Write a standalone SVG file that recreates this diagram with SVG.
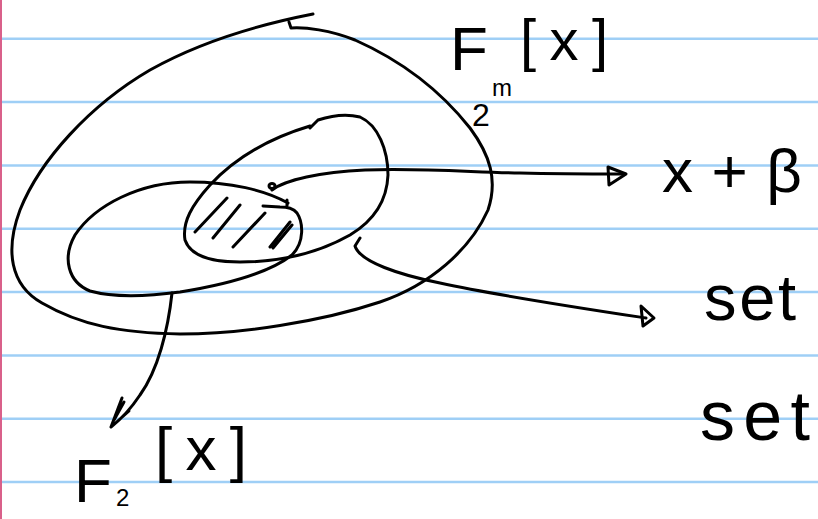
<svg xmlns="http://www.w3.org/2000/svg" width="818" height="519" viewBox="0 0 818 519">
<style>
.rule{stroke:#9fcff6;stroke-width:2.5}
.ink{fill:none;stroke:#000;stroke-width:3;stroke-linecap:round;stroke-linejoin:round}
.t{font-family:"Liberation Sans",Arial,sans-serif;fill:#000}
</style>
<rect width="818" height="519" fill="#fff"/>
<g id="paper">
<line class="rule" x1="0" y1="38.7" x2="818" y2="38.7"/>
<line class="rule" x1="0" y1="102" x2="818" y2="102"/>
<line class="rule" x1="0" y1="165.4" x2="818" y2="165.4"/>
<line class="rule" x1="0" y1="228.7" x2="818" y2="228.7"/>
<line class="rule" x1="0" y1="292" x2="818" y2="292"/>
<line class="rule" x1="0" y1="355.4" x2="818" y2="355.4"/>
<line class="rule" x1="0" y1="418.7" x2="818" y2="418.7"/>
<line class="rule" x1="0" y1="482" x2="818" y2="482"/>
<line x1="1" y1="0" x2="1" y2="519" stroke="#d9608a" stroke-width="2"/>
</g>
<g id="outer-set">
<path class="ink" d="M313,14 C262,24 200,42 150,70 C90,105 40,160 20,210 C5,250 10,285 42,303 C80,325 120,333 180,334 C240,334 320,322 380,302 C430,285 470,250 488,210 C498,180 490,155 470,128 C440,90 400,60 355,40 C330,30 305,27 291,28 L289,22"/>
</g>
<g id="set-b">
<path class="ink" d="M310,128 L318,120 C330,116 345,113 360,117 C378,125 388,150 388,175 C387,200 375,220 350,235 C320,252 285,262 240,262 C210,262 190,255 185,240 C182,222 192,205 210,185 C235,158 270,138 310,126"/>
</g>
<g id="set-a">
<path class="ink" d="M287,200 L287,206 M288,203 C265,190 230,182 190,182 C140,182 95,205 75,235 C62,258 68,282 90,291 C115,298 150,296 180,292 C230,284 270,272 292,255 C305,242 303,222 297,213 C293,208 288,207 280,207 L263,206"/>
</g>
<g id="hatch">
<path class="ink" d="M195,232 L227,198 M213,238 L240,205 M233,247 L265,213 M270,247 L290,222 M273,248 L292,225"/>
<ellipse class="ink" cx="272" cy="186" rx="3" ry="2.5"/>
</g>
<g id="connectors">
<path class="ink" d="M272,190 C285,180 320,172 365,170 C420,168 470,172 520,173 C560,174 590,174 622,174"/>
<path class="ink" d="M608,167 L626,174 L609,185 Z"/>
<path class="ink" d="M360,238 L355,246 C360,262 400,275 440,283 C500,296 580,308 646,318"/>
<path class="ink" d="M641,306 L654,318 L643,326 Z"/>
<path class="ink" d="M172,293 C168,330 158,370 140,395 C130,410 120,420 111,427 M111,427 L122,398 M111,427 L129,411 M114,420 L124,402"/>
</g>
<g id="label-f2m">
<text class="t" x="450" y="70" font-size="62">F</text>
<text class="t" x="520" y="60" font-size="58" textLength="88" lengthAdjust="spacing">[x]</text>
<text class="t" x="472" y="126" font-size="32">2</text>
<text class="t" x="492" y="96" font-size="24">m</text>
</g>
<g id="label-xb">
<text class="t" x="662" y="192" font-size="62" textLength="140" lengthAdjust="spacing">x+β</text>
</g>
<g id="label-set1">
<text class="t" x="704" y="320" font-size="65" textLength="92" lengthAdjust="spacing">set</text>
</g>
<g id="label-set2">
<text class="t" x="700" y="440" font-size="70" textLength="110" lengthAdjust="spacing">set</text>
</g>
<g id="label-f2">
<text class="t" x="74" y="502" font-size="62">F</text>
<text class="t" x="116" y="506" font-size="24">2</text>
<text class="t" x="155" y="470" font-size="62" textLength="92" lengthAdjust="spacing">[x]</text>
</g>
</svg>
